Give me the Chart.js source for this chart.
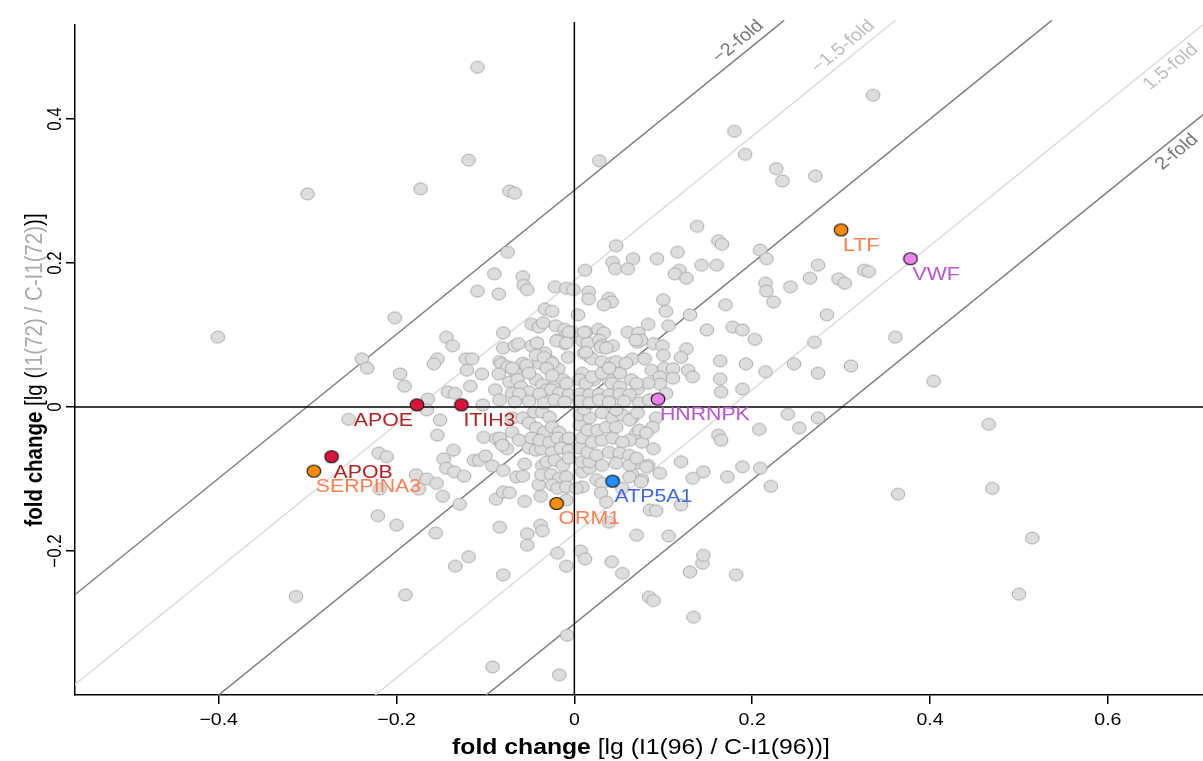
<!DOCTYPE html>
<html>
<head>
<meta charset="utf-8">
<script src="https://cdn.jsdelivr.net/npm/chart.js@4.4.1/dist/chart.umd.min.js"></script>
<style>
  html, body { margin: 0; padding: 0; background: #ffffff; }
  #wrap { width: 1203px; height: 761px; position: relative; }
</style>
</head>
<body>
<div id="wrap"><canvas id="chart"></canvas></div>
<script>
// ---- axis ticks -------------------------------------------------------
const xTickValues = [-0.4, -0.2, 0, 0.2, 0.4, 0.6];
const xTickLabels = ['\u22120.4', '\u22120.2', '0', '0.2', '0.4', '0.6'];
const yTickValues = [-0.2, 0, 0.2, 0.4];
const yTickLabels = ['\u22120.2', '0', '0.2', '0.4'];

// ---- fold-change guide lines (ratio thresholds) -----------------------
const foldRatios = [2, 1.5, 1, 1 / 1.5, 1 / 2];
const foldLineLabels = ['\u22122-fold', '\u22121.5-fold', '', '1.5-fold', '2-fold'];

// ---- all quantified proteins: [lg(I1(96)/C-I1(96)), lg(I1(72)/C-I1(72))] ----
const proteinFold = [
  [-0.109,0.472],[0.336,0.433],[0.180,0.383],[-0.119,0.343],[0.028,0.342],[-0.300,0.296],[-0.173,0.303],
  [-0.073,0.300],[-0.067,0.297],[0.192,0.351],[0.227,0.331],[0.234,0.314],[0.271,0.321],[-0.401,0.097],
  [-0.313,-0.263],[-0.190,-0.261],[-0.092,-0.361],[-0.017,-0.372],[-0.008,-0.317],[0.466,-0.024],
  [0.470,-0.113],[0.515,-0.182],[0.500,-0.260],[0.364,-0.121],[0.404,0.036],[0.361,0.097],[0.311,0.057],

  [-0.075,0.215],[-0.090,0.185],[-0.109,0.161],[-0.085,0.157],[-0.058,0.181],[-0.057,0.169],[-0.053,0.163],
  [-0.202,0.124],[-0.144,0.097],[-0.137,0.085],[-0.080,0.103],[-0.080,0.082],[-0.067,0.085],[-0.063,0.088],
  [-0.048,0.115],[-0.040,0.111],[-0.035,0.117],[-0.033,0.136],[-0.239,0.067],[-0.233,0.054],[-0.196,0.046],
  [-0.191,0.029],[-0.154,0.067],[-0.158,0.060],[-0.122,0.067],[-0.115,0.067],[-0.121,0.051],[-0.104,0.046],
  [-0.117,0.029],[-0.142,0.021],[-0.134,0.019],[-0.089,0.024],[-0.165,0.011],[-0.084,0.063],[-0.082,0.060],
  [-0.075,0.056],[-0.067,0.050],[-0.058,0.061],[-0.085,0.046],[-0.048,0.085],[-0.042,0.089],[-0.039,0.069],
  [-0.033,0.075],[-0.040,0.061],[-0.073,0.035],[-0.064,0.038],[-0.060,0.028],[-0.043,0.038],[-0.036,0.031],
  [-0.051,0.021],[-0.031,0.024],[-0.070,0.019],

  [0.138,0.251],[0.162,0.231],[0.166,0.226],[0.209,0.218],[0.216,0.206],[0.047,0.224],[0.043,0.201],
  [0.046,0.192],[0.066,0.206],[0.060,0.192],[0.012,0.190],[0.093,0.206],[0.116,0.215],[0.143,0.197],
  [0.160,0.197],[0.118,0.190],[0.113,0.185],[0.126,0.179],[-0.022,0.167],[-0.009,0.165],[-0.001,0.163],
  [0.016,0.160],[0.016,0.150],[0.039,0.151],[0.042,0.146],[0.033,0.142],[0.100,0.149],[0.103,0.133],
  [0.130,0.128],[0.170,0.142],[0.215,0.172],[0.216,0.161],[-0.025,0.133],[0.004,0.128],[-0.021,0.113],
  [-0.011,0.108],[-0.009,0.100],[-0.002,0.104],[0.013,0.104],[0.027,0.108],[0.033,0.103],[0.060,0.104],
  [0.072,0.103],[0.083,0.115],[0.106,0.113],[0.149,0.107],[0.178,0.111],[0.189,0.107],[0.203,0.094],
  [-0.019,0.093],[-0.011,0.088],[0.009,0.092],[0.015,0.089],[0.028,0.093],[0.031,0.086],[0.043,0.085],
  [0.071,0.090],[0.075,0.093],[0.089,0.088],[0.099,0.085],[0.100,0.072],[0.126,0.081],[0.120,0.069],
  [0.164,0.064],[0.193,0.060],[0.215,0.049],[0.164,0.039],[0.189,0.025],[0.165,0.021],[-0.026,0.063],
  [-0.018,0.053],[-0.007,0.069],[0.011,0.075],[0.016,0.071],[0.020,0.067],[0.031,0.063],[0.042,0.061],
  [0.047,0.063],[0.065,0.067],[0.079,0.067],[0.087,0.051],[0.101,0.054],[0.111,0.053],[0.128,0.051],
  [0.133,0.042],[0.111,0.040],[0.096,0.042],[0.096,0.032],[0.083,0.033],[0.071,0.025],[0.064,0.038],
  [0.051,0.047],[0.039,0.038],[0.022,0.038],[0.009,0.047],[-0.020,0.035],[-0.013,0.038],[-0.026,0.024],
  [-0.017,0.019],[0.103,0.019],

  [-0.254,-0.017],[-0.151,-0.018],[-0.154,-0.039],[-0.136,-0.060],[-0.220,-0.064],[-0.211,-0.069],
  [-0.147,-0.072],[-0.144,-0.085],[-0.135,-0.090],[-0.124,-0.096],[-0.178,-0.094],[-0.166,-0.100],
  [-0.155,-0.106],[-0.175,-0.114],[-0.219,-0.114],[-0.148,-0.124],[-0.129,-0.135],[-0.221,-0.151],
  [-0.200,-0.164],[-0.156,-0.175],[-0.119,-0.208],[-0.134,-0.221],[-0.080,-0.233],[-0.102,-0.042],
  [-0.113,-0.074],[-0.107,-0.074],[-0.100,-0.068],[-0.092,-0.082],[-0.080,-0.088],[-0.088,-0.128],
  [-0.080,-0.118],[-0.065,-0.097],[-0.058,-0.096],[-0.056,-0.131],[-0.084,-0.167],[-0.053,-0.176],
  [-0.053,-0.192],[-0.038,-0.164],[-0.036,-0.172],[-0.040,-0.108],[-0.038,-0.124],[-0.056,-0.079],
  [-0.088,-0.044],[-0.082,-0.050],[-0.076,-0.058],[-0.070,-0.035],[-0.062,-0.046],[-0.051,-0.057],
  [-0.043,-0.060],[-0.037,-0.058],[-0.036,-0.081],[-0.166,-0.004],[-0.103,0.003],

  [-0.019,-0.203],[-0.009,-0.221],[0.007,-0.200],[0.012,-0.211],[0.042,-0.215],[0.054,-0.231],[0.070,-0.178],
  [0.106,-0.179],[0.120,-0.136],[0.085,-0.143],[0.092,-0.144],[0.039,-0.160],[0.084,-0.264],[0.089,-0.269],
  [0.134,-0.292],[0.130,-0.229],[0.144,-0.217],[0.145,-0.206],[0.182,-0.233],[0.120,-0.076],[0.145,-0.090],
  [0.133,-0.099],[0.096,-0.092],[0.172,-0.097],[0.189,-0.083],[0.209,-0.085],[0.221,-0.110],[0.208,-0.031],
  [0.162,-0.039],[0.165,-0.046],[0.089,-0.058],[0.083,-0.081],[0.076,-0.101],[0.076,-0.049],[0.070,-0.036],
  [0.062,-0.046],[0.071,-0.078],[0.081,-0.083],[0.065,-0.094],[0.075,-0.104],[0.092,-0.015],
  [0.274,0.197],[0.265,0.179],[0.297,0.178],[0.304,0.172],[0.326,0.190],[0.331,0.188],[0.224,0.146],
  [0.243,0.167],[0.284,0.128],[0.270,0.090],[0.247,0.060],[0.274,0.047],[0.240,-0.010],[0.253,-0.029],
  [0.274,-0.015],

  [-0.084,-0.043],[-0.081,-0.053],[-0.070,-0.015],[-0.058,-0.015],[-0.051,-0.022],[-0.045,-0.007],
  [-0.036,-0.007],[-0.028,-0.014],[-0.043,-0.029],[-0.034,-0.035],[-0.025,-0.028],[-0.017,-0.035],
  [-0.048,-0.043],[-0.039,-0.046],[-0.028,-0.049],[-0.019,-0.043],[-0.009,-0.046],[-0.025,-0.063],
  [-0.015,-0.057],[-0.006,-0.060],[-0.031,-0.076],[-0.022,-0.074],[-0.013,-0.081],[-0.006,-0.071],
  [-0.037,-0.094],[-0.026,-0.094],[-0.017,-0.099],[-0.009,-0.097],[-0.025,-0.108],[-0.019,-0.113],
  [-0.009,-0.111],[-0.073,-0.119],[-0.009,-0.129],[0.009,-0.111],[0.002,-0.113],[0.009,-0.090],
  [0.017,-0.085],[0.008,-0.076],[0.017,-0.076],[0.006,-0.057],[0.015,-0.063],[0.025,-0.067],
  [0.009,-0.043],[0.020,-0.049],[0.031,-0.046],[0.006,-0.025],[0.015,-0.032],[0.026,-0.032],
  [0.036,-0.028],[0.006,-0.011],[0.017,-0.015],[0.031,-0.008],[0.043,-0.015],[0.054,-0.011],
  [0.065,-0.015],[0.043,-0.043],[0.054,-0.049],[0.039,-0.063],[0.051,-0.064],[0.062,-0.067],
  [0.031,-0.081],[0.047,-0.078],[0.062,-0.081],[0.025,-0.101],[0.031,-0.106],[0.030,-0.119],
  [0.036,-0.132],[0.062,-0.097],[0.054,-0.113],[0.070,-0.071],
  [0.047,-0.028],[0.073,-0.032],[0.088,-0.028],[-0.006,-0.043],[0.011,-0.003],[0.047,-0.004],

  [-0.006,0.104],[0.011,0.104],[0.069,0.093],[-0.020,0.092],[-0.009,0.089],[0.013,0.076],[0.030,0.083],
  [0.036,0.082],[-0.070,0.054],[-0.054,0.058],[-0.043,0.072],[-0.034,0.069],[-0.025,0.061],[-0.031,0.054],
  [-0.051,0.047],[-0.025,0.044],[-0.009,0.033],[0.006,0.038],[0.013,0.033],[0.020,0.042],[0.031,0.047],
  [0.039,0.054],[0.058,0.061],[0.042,0.033],[0.051,0.028],[0.070,0.033],
  [-0.062,0.018],[-0.039,0.018],[-0.006,0.017],[0.006,0.018],[0.017,0.017],[0.028,0.018],[0.039,0.017],
  [0.051,0.018],[0.062,0.017],
  [-0.084,0.010],[-0.067,0.007],[-0.051,0.008],[-0.034,0.006],[-0.022,0.010],[-0.011,0.007],[0.006,0.008],
  [0.017,0.006],[0.028,0.010],[0.039,0.007],[0.056,0.008],[0.073,0.006],[0.084,0.010],
  [0.062,-0.018],[0.071,-0.008],[0.081,-0.036]
];

// ---- named proteins ---------------------------------------------------
const markerNames = ['LTF', 'VWF', 'HNRNPK', 'ATP5A1', 'ORM1', 'APOE', 'ITIH3', 'APOB', 'SERPINA3'];
const markerX     = [0.300, 0.378, 0.094, 0.043, -0.020, -0.177, -0.127, -0.273, -0.293];
const markerY     = [0.246, 0.206, 0.011, -0.103, -0.134, 0.003, 0.003, -0.069, -0.089];
const markerGroup = ['orange', 'violet', 'violet', 'blue', 'orange', 'red', 'red', 'red', 'orange'];

// ---- look -------------------------------------------------------------
const FONT = '"Liberation Sans", Arial, Helvetica, sans-serif';
const TEXT_STRETCH = 1.15;          // glyphs are drawn slightly wide
const groupStyle = {
  red:    { fill: '#dc143c', text: '#b22222' },
  orange: { fill: '#ff8c00', text: '#ff7f50' },
  blue:   { fill: '#1e90ff', text: '#4169e1' },
  violet: { fill: '#ee82ee', text: '#ba55d3' }
};
const labelAlign = { APOE: 'right' };
const foldLineColor = r => (r === 2 || r === 0.5 || r === 1) ? '#808080' : '#dddddd';
const foldTextColor = r => (r === 2 || r === 0.5) ? '#777777' : '#bdbdbd';

function ellipseSprite(fill, stroke, lw) {
  const rx = 6.8, ry = 6.0;
  const c = document.createElement('canvas');
  c.width = Math.ceil(2 * rx + lw + 3);
  c.height = Math.ceil(2 * ry + lw + 3);
  const g = c.getContext('2d');
  g.beginPath();
  g.ellipse(c.width / 2, c.height / 2, rx, ry, 0, 0, Math.PI * 2);
  g.fillStyle = fill;
  g.fill();
  g.lineWidth = lw;
  g.strokeStyle = stroke;
  g.stroke();
  return c;
}
const greySprite = ellipseSprite('#dddddd', '#aaaaaa', 1);
const markerSprites = {};
Object.keys(groupStyle).forEach(k => { markerSprites[k] = ellipseSprite(groupStyle[k].fill, '#1a1a1a', 1.2); });

// top end of the guide lines, in y units
const GUIDE_TOP = 0.537;

const foldDatasets = foldRatios.map(r => {
  const c = Math.log10(r);
  return {
    type: 'scatter',
    label: 'fold ' + r,
    data: [{ x: -1.2, y: -1.2 + c }, { x: GUIDE_TOP - c, y: GUIDE_TOP }],
    showLine: true,
    borderColor: foldLineColor(r),
    borderWidth: 1.5,
    pointRadius: 0,
    clip: { left: 0, top: 7, right: 0, bottom: 0 },
    order: 5
  };
});

// ---- text helpers -----------------------------------------------------
function drawRuns(ctx, runs, size, px, py, rot, align, baseline) {
  ctx.save();
  ctx.translate(px, py);
  ctx.scale(TEXT_STRETCH, 1);
  ctx.rotate(rot);
  ctx.textBaseline = baseline;
  ctx.textAlign = 'left';
  const fonts = runs.map(r => (r.bold ? 'bold ' : '') + size + 'px ' + FONT);
  const widths = runs.map((r, i) => { ctx.font = fonts[i]; return ctx.measureText(r.text).width; });
  const total = widths.reduce((a, b) => a + b, 0);
  let x = align === 'center' ? -total / 2 : (align === 'right' ? -total : 0);
  runs.forEach((r, i) => {
    ctx.font = fonts[i];
    ctx.fillStyle = r.color;
    ctx.fillText(r.text, x, 0);
    x += widths[i];
  });
  ctx.restore();
}

const annotationPlugin = {
  id: 'annotations',
  afterDatasetsDraw(chart) {
    const ctx = chart.ctx;
    const xs = chart.scales.x, ys = chart.scales.y;

    // guide-line labels, written along each line near where it leaves the plot
    const kx = xs.getPixelForValue(1) - xs.getPixelForValue(0);
    const ky = ys.getPixelForValue(0) - ys.getPixelForValue(1);
    const len = Math.hypot(kx, ky);
    const ux = kx / len, uy = -ky / len;                 // unit vector along the line (up-right)
    const rot = -Math.atan((ky / kx) * TEXT_STRETCH);
    foldRatios.forEach((r, i) => {
      const text = foldLineLabels[i];
      if (!text) return;
      const c = Math.log10(r);
      let ex, ey, below;
      if (c > 0) {           // leaves through the top
        ex = xs.getPixelForValue(GUIDE_TOP - c);
        ey = ys.getPixelForValue(GUIDE_TOP);
        below = false;
      } else {               // leaves through the right edge
        ex = xs.getPixelForValue(xs.max);
        ey = ys.getPixelForValue(xs.max + c);
        below = true;
      }
      const back = 20, off = 12.5;
      const nx = below ? -uy : uy, ny = below ? ux : -ux;
      drawRuns(ctx, [{ text, color: foldTextColor(r) }], 17.5,
               ex - back * ux + off * nx, ey - back * uy + off * ny, rot, 'right', 'middle');
    });

    // named protein labels
    markerNames.forEach((name, i) => {
      const px = xs.getPixelForValue(markerX[i]);
      const py = ys.getPixelForValue(markerY[i]);
      const align = labelAlign[name] || 'left';
      const dx = align === 'right' ? -4 : 2;
      drawRuns(ctx, [{ text: name, color: groupStyle[markerGroup[i]].text }], 18.5,
               px + dx, py + 21, 0, align, 'alphabetic');
    });
  },
  afterDraw(chart) {
    const ctx = chart.ctx;
    const xs = chart.scales.x, ys = chart.scales.y;
    const area = chart.chartArea;

    xTickValues.forEach((v, i) => {
      drawRuns(ctx, [{ text: xTickLabels[i], color: '#000' }], 17,
               xs.getPixelForValue(v), area.bottom + 30, 0, 'center', 'alphabetic');
    });
    yTickValues.forEach((v, i) => {
      drawRuns(ctx, [{ text: yTickLabels[i], color: '#000' }], 17,
               area.left - 14, ys.getPixelForValue(v), -Math.PI / 2, 'center', 'alphabetic');
    });

    drawRuns(ctx, [
      { text: 'fold change', bold: true, color: '#000' },
      { text: ' [lg (I1(96) / C-I1(96))]', color: '#000' }
    ], 21.5, 641, 754, 0, 'center', 'alphabetic');

    drawRuns(ctx, [
      { text: 'fold change', bold: true, color: '#000' },
      { text: ' [lg (', color: '#000' },
      { text: 'I1(72) / C-I1(72)', color: '#aaaaaa' },
      { text: ')]', color: '#000' }
    ], 20.5, 42, 370, -Math.PI / 2, 'center', 'alphabetic');
  }
};

new Chart(document.getElementById('chart'), {
  type: 'scatter',
  data: {
    datasets: [
      ...foldDatasets,
      {
        label: 'proteins',
        data: proteinFold.map(([x, y]) => ({ x, y })),
        pointStyle: greySprite,
        pointRadius: 6,
        order: 4
      },
      {
        label: 'zero x',
        data: [{ x: 0, y: -1 }, { x: 0, y: 1 }],
        showLine: true, borderColor: '#000', borderWidth: 1.5, pointRadius: 0,
        clip: { left: 0, top: 3, right: 0, bottom: 0 },
        order: 3
      },
      {
        label: 'zero y',
        data: [{ x: -1, y: 0 }, { x: 1, y: 0 }],
        showLine: true, borderColor: '#000', borderWidth: 1.5, pointRadius: 0,
        order: 3
      },
      {
        label: 'named',
        data: markerNames.map((n, i) => ({ x: markerX[i], y: markerY[i] })),
        pointStyle: ctx => markerSprites[markerGroup[ctx.dataIndex]],
        pointRadius: 6,
        order: 1
      }
    ]
  },
  options: {
    responsive: true,
    maintainAspectRatio: false,
    animation: false,
    events: [],
    layout: { autoPadding: false, padding: { top: 25, right: 0, bottom: 0, left: 0 } },
    plugins: { legend: { display: false }, tooltip: { enabled: false }, title: { display: false } },
    scales: {
      x: {
        type: 'linear',
        min: -0.5616, max: 0.707,
        afterBuildTicks: s => { s.ticks = xTickValues.map(v => ({ value: v })); },
        afterFit: s => { s.height = 66; },
        ticks: { display: false },
        grid: { drawOnChartArea: false, drawTicks: true, tickLength: 9, color: '#000', lineWidth: 1.5 },
        border: { display: true, color: '#000', width: 1.5 }
      },
      y: {
        type: 'linear',
        min: -0.4, max: 0.5306,
        afterBuildTicks: s => { s.ticks = yTickValues.map(v => ({ value: v })); },
        afterFit: s => { s.width = 75; },
        ticks: { display: false },
        grid: { drawOnChartArea: false, drawTicks: true, tickLength: 9, color: '#000', lineWidth: 1.5 },
        border: { display: true, color: '#000', width: 1.5 }
      }
    }
  },
  plugins: [annotationPlugin]
});
</script>
</body>
</html>
